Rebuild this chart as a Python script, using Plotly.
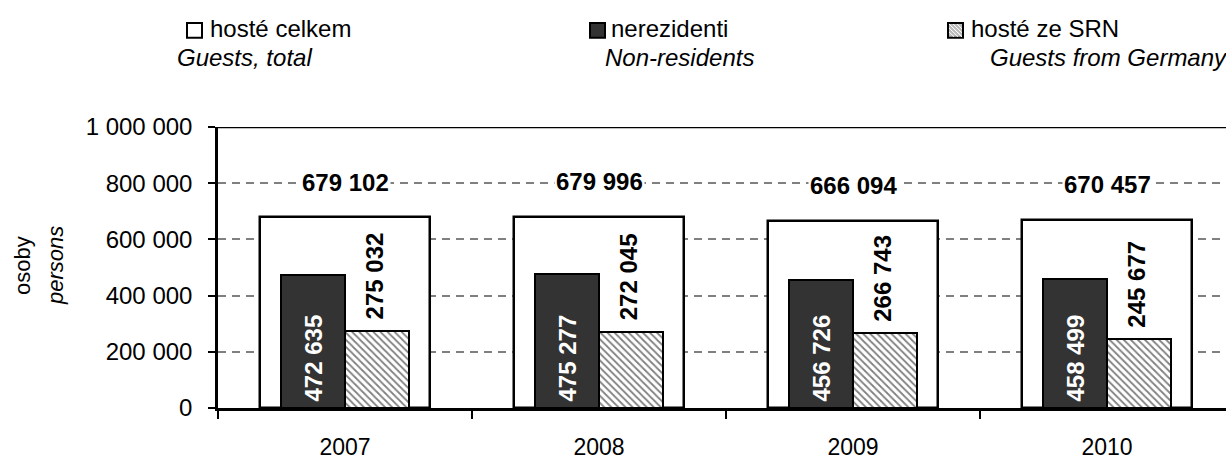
import plotly.graph_objects as go

years = ["2007", "2008", "2009", "2010"]
total = [679102, 679996, 666094, 670457]
nonres = [472635, 475277, 456726, 458499]
germany = [275032, 272045, 266743, 245677]
y_ticks = [0, 200000, 400000, 600000, 800000, 1000000]
y_tick_text = ["0", "200 000", "400 000", "600 000", "800 000", "1 000 000"]

W, H = 1226, 460
L, T, B = 218, 127, 412
FONT = "Arial, Liberation Sans, sans-serif"


def fmt(v):
    return f"{v:,}".replace(",", " ")


def px(x):
    return (x - L) / (W - L)


def py(y):
    return (B - y) / (B - T)


fig = go.Figure()
fig.add_trace(go.Bar(x=years, y=total, width=0.67, offset=-0.335,
                     marker=dict(color="white", line=dict(color="black", width=2.5)),
                     hoverinfo="skip", showlegend=False))
fig.add_trace(go.Bar(x=years, y=nonres, width=0.252, offset=-0.252,
                     marker=dict(color="#333333", line=dict(color="black", width=2)),
                     hoverinfo="skip", showlegend=False))
fig.add_trace(go.Bar(x=years, y=germany, width=0.252, offset=0.0,
                     marker=dict(color="white", line=dict(color="black", width=2),
                                 pattern=dict(shape="\\", fgcolor="black", bgcolor="white",
                                              size=5, solidity=0.35)),
                     hoverinfo="skip", showlegend=False))

ann = []
for i, y in enumerate(years):
    ann.append(dict(x=i, y=total[i], xref="x", yref="y", text=f"<b>{fmt(total[i])}</b>",
                    showarrow=False, yanchor="middle", yshift=35, bgcolor="white",
                    font=dict(family=FONT, size=24, color="black")))
    ann.append(dict(x=i - 0.126, y=0, xref="x", yref="y", text=f"<b>{fmt(nonres[i])}</b>",
                    showarrow=False, yanchor="bottom", yshift=4, textangle=-90,
                    font=dict(family=FONT, size=24, color="white")))
    ann.append(dict(x=i + 0.115, y=germany[i], xref="x", yref="y", text=f"<b>{fmt(germany[i])}</b>",
                    showarrow=False, yanchor="bottom", yshift=9, textangle=-90,
                    font=dict(family=FONT, size=24, color="black")))

# axis title
ann.append(dict(x=px(22), y=py(268), xref="paper", yref="paper", text="osoby",
                xanchor="center", yanchor="middle",
                showarrow=False, textangle=-90, font=dict(family=FONT, size=22, color="black")))
ann.append(dict(x=px(55), y=py(268), xref="paper", yref="paper", text="<i>persons</i>",
                xanchor="center", yanchor="middle",
                showarrow=False, textangle=-90, font=dict(family=FONT, size=22, color="black")))

# legend texts
leg_font = dict(family=FONT, size=24, color="black")
ann += [
    dict(x=px(208), y=py(27), text="hosté celkem", xanchor="left"),
    dict(x=px(175), y=py(57), text="<i>Guests, total</i>", xanchor="left"),
    dict(x=px(609), y=py(27), text="nerezidenti", xanchor="left"),
    dict(x=px(603), y=py(57), text="<i>Non-residents</i>", xanchor="left"),
    dict(x=px(969), y=py(27), text="hosté ze SRN", xanchor="left"),
    dict(x=px(988), y=py(57), text="<i>Guests from Germany</i>", xanchor="left"),
]
for a in ann[-6:]:
    a.update(xref="paper", yref="paper", showarrow=False, yanchor="middle", font=leg_font)

shapes = [
    dict(type="line", xref="paper", yref="y", x0=0, x1=1, y0=1000000, y1=1000000,
         line=dict(color="black", width=2.5), layer="above"),
]
# legend symbols
sym = 15
cy = 29
for x0, fill in [(187, "white"), (590, "#333333"), (948, "#bbbbbb")]:
    shapes.append(dict(type="rect", xref="paper", yref="paper",
                       x0=px(x0), x1=px(x0 + sym), y0=py(cy + sym / 2), y1=py(cy - sym / 2),
                       fillcolor=fill, line=dict(color="black", width=2)))
# hatch lines in the third symbol
hx, hy = 948, cy - sym / 2
for k in (4, 8, 12):
    shapes.append(dict(type="line", xref="paper", yref="paper",
                       x0=px(hx + k - 3), y0=py(hy + 1), x1=px(hx + sym - 1), y1=py(hy + sym - k + 3),
                       line=dict(color="white", width=1)))
    shapes.append(dict(type="line", xref="paper", yref="paper",
                       x0=px(hx + 1), y0=py(hy + k - 3), x1=px(hx + sym - k + 3), y1=py(hy + sym - 1),
                       line=dict(color="white", width=1)))

fig.update_layout(
    width=W, height=H,
    margin=dict(l=L, r=0, t=T, b=H - B),
    paper_bgcolor="white", plot_bgcolor="white",
    barmode="overlay", bargap=0,
    showlegend=False,
    annotations=ann, shapes=shapes,
    font=dict(family=FONT, size=22, color="black"),
    xaxis=dict(type="category", range=[-0.5, -0.5 + (W - L) / 254], tickson="boundaries",
               ticks="outside", ticklen=8, tickwidth=1.5, tickcolor="black",
               showline=True, linecolor="black", linewidth=3, showgrid=False,
               tickfont=dict(family=FONT, size=23, color="black"), ticklabelstandoff=16),
    yaxis=dict(range=[0, 1000000], tickvals=y_ticks, ticktext=y_tick_text,
               ticks="outside", ticklen=7, tickwidth=1.5, tickcolor="black",
               showline=True, linecolor="black", linewidth=2.5,
               showgrid=True, gridcolor="#808080", gridwidth=1.5, griddash="8px,6px",
               zeroline=False, tickfont=dict(family=FONT, size=24, color="black"),
               ticklabelstandoff=11),
)

fig.write_html("out.html", config={"displayModeBar": False})
with open("out.html", encoding="utf-8") as f:
    html = f.read()
html = html.replace("<body>", '<body style="margin:0;padding:0;overflow:hidden">', 1)
with open("out.html", "w", encoding="utf-8") as f:
    f.write(html)
